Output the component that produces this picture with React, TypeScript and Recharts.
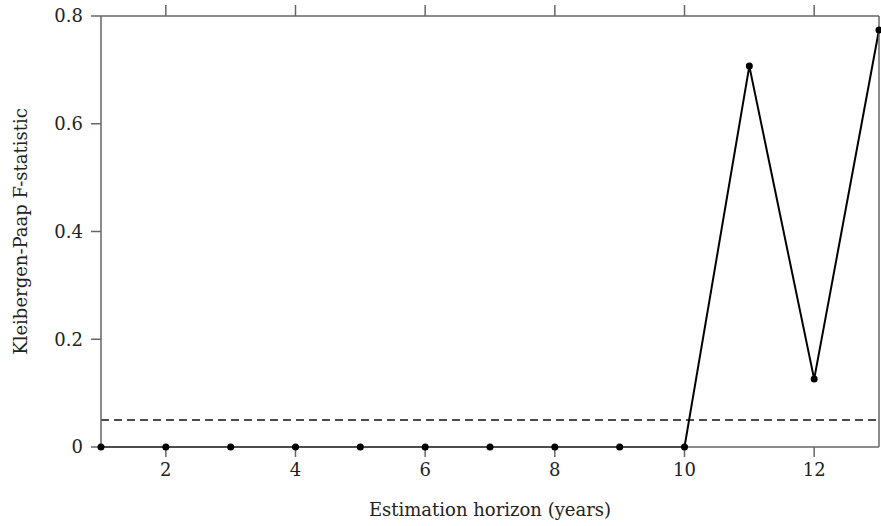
import { LineChart, Line, XAxis, YAxis, ReferenceLine } from "recharts";

const horizons = [1, 2, 3, 4, 5, 6, 7, 8, 9, 10, 11, 12, 13];
const fStats = [0, 0, 0, 0, 0, 0, 0, 0, 0, 0, 0.707, 0.126, 0.774];
const xTicks = [2, 4, 6, 8, 10, 12];
const yTicks = [0, 0.2, 0.4, 0.6, 0.8];
const threshold = 0.05;

const data = horizons.map((h, i) => ({ h, f: fStats[i] }));

const font = "'DejaVu Serif', serif";
const axisColor = "#666";
const textStyle = { fill: "#222", fontSize: 18, fontFamily: font };

const NoTick = () => <g />;

export default function App() {
    return (
        <div style={{ width: 881, height: 526, fontFamily: font }}>
            <style>{"body{margin:0}"}</style>
            <LineChart
                width={881}
                height={526}
                data={data}
                margin={{ top: 0, right: 0, bottom: 0, left: 0 }}
            >
                <XAxis
                    dataKey="h"
                    type="number"
                    domain={[1, 13]}
                    ticks={xTicks}
                    stroke={axisColor}
                    strokeWidth={1.5}
                    tickSize={10}
                    tickMargin={6}
                    height={79}
                    fontSize={18}
                    tick={textStyle}
                    label={{ value: "Estimation horizon (years)", position: "insideBottom", offset: 10, style: textStyle }}
                />
                <XAxis
                    xAxisId="top"
                    orientation="top"
                    dataKey="h"
                    type="number"
                    domain={[1, 13]}
                    ticks={xTicks}
                    stroke={axisColor}
                    strokeWidth={1.5}
                    tickSize={11}
                    height={16}
                    tick={NoTick}
                />
                <YAxis
                    type="number"
                    domain={[0, 0.8]}
                    ticks={yTicks}
                    tickFormatter={(v) => (v === 0 ? "0" : v.toFixed(1))}
                    stroke={axisColor}
                    strokeWidth={1.5}
                    tickSize={10}
                    tickMargin={8}
                    width={101}
                    fontSize={18}
                    tick={textStyle}
                    label={{ value: "Kleibergen-Paap F-statistic", angle: -90, position: "insideLeft", offset: 21, style: { ...textStyle, textAnchor: "middle" } }}
                />
                <YAxis
                    yAxisId="right"
                    orientation="right"
                    type="number"
                    domain={[0, 0.8]}
                    ticks={yTicks}
                    stroke={axisColor}
                    strokeWidth={1.5}
                    tickSize={3}
                    width={2}
                    tick={NoTick}
                />
                <ReferenceLine y={threshold} stroke="#111" strokeWidth={1.5} strokeDasharray="8 5" />
                <Line
                    dataKey="f"
                    stroke="#000"
                    strokeWidth={2}
                    dot={{ r: 3.5, fill: "#000", stroke: "#000", strokeWidth: 0 }}
                    isAnimationActive={false}
                />
            </LineChart>
        </div>
    );
}
